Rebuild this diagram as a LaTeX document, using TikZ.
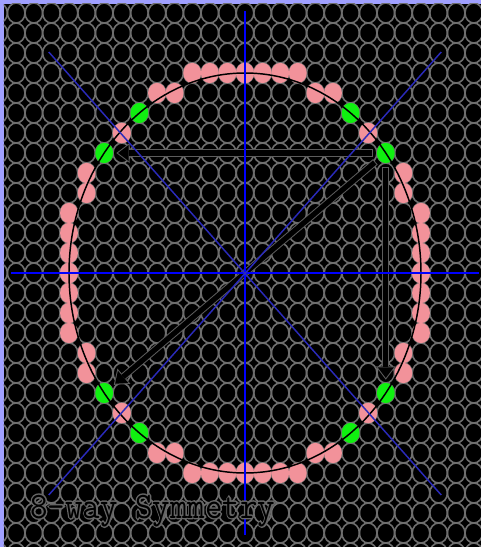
\documentclass[tikz,border=0pt]{standalone}
\usepackage{fontspec}
\usepackage{tikz}
\usetikzlibrary{arrows.meta, shapes.geometric}
\definecolor{frame}{HTML}{A0A0FF}
\definecolor{gridgray}{HTML}{6E6E6E}
\definecolor{pixpink}{HTML}{F2929A}
\definecolor{pixgreen}{HTML}{10F010}
\definecolor{axisblue}{HTML}{0000FF}
\definecolor{diagblue}{HTML}{2A2ABA}
\definecolor{rimgray}{HTML}{5C5C5C}
% outlined text: grey stroke under a black fill
\newcommand{\outlined}[1]{%
  \rlap{\special{pdf:literal direct 1 Tr 0.4 G 2.2 w}#1\special{pdf:literal direct 0 Tr}}#1}

\begin{document}
\begin{tikzpicture}[x=13.2pt, y=15pt,
  pixel/.style={ellipse, minimum width=13.4pt, minimum height=15.2pt, inner sep=0pt},
  pinkdot/.style={pixel, fill=pixpink},
  greendot/.style={pixel, fill=pixgreen},
  arrowrim/.style={draw=rimgray, line width=5.4pt, shorten <=3pt, shorten >=2.2pt,
    -{Triangle[length=10pt, width=15pt, line width=0pt]}},
  arrowcore/.style={draw=black, line width=3.9pt, shorten <=3.75pt, shorten >=3.5pt,
    -{Triangle[length=7.9pt, width=12pt, line width=0pt]}},
  titletext/.style={font=\fontsize{28pt}{28pt}\selectfont\ttfamily,
    anchor=base west, inner sep=0pt, xscale=0.91}]
  \useasboundingbox (-13.9205,-13.7) rectangle (13.4091,13.65);

  % Frame and background
  \fill[frame] (-13.9205,-13.7) rectangle (13.4091,13.65);
  \fill[black] (-13.72,-13.7) rectangle (13.4091,13.475);

  % Pixel grid
  \begin{scope}
    \clip (-13.72,-13.7) rectangle (13.4091,13.475);
    \foreach \i in {-14,...,14}
      \foreach \j in {-14,...,14}
        \draw[gridgray, line width=1.2pt] (\i,\j) ellipse [x radius=6.6pt, y radius=7.5pt];
  \end{scope}

  % Pixels of the circle (one octant, mirrored)
  \foreach \a/\b [count=\k] in {0/10,1/10,2/10,3/10,4/9,5/9,7/7}
    \foreach \sx/\sy [count=\m] in {1/1,-1/1,1/-1,-1/-1} {
      \node[pinkdot] (p\k-\m-a) at ({\sx*\a},{\sy*\b}) {};
      \node[pinkdot] (p\k-\m-b) at ({\sx*\b},{\sy*\a}) {};
    }

  % Symmetric points
  \node[greendot] (gA) at (8,6) {};
  \node[greendot] (gB) at (-8,6) {};
  \node[greendot] (gC) at (8,-6) {};
  \node[greendot] (gD) at (-8,-6) {};
  \node[greendot] (gE) at (6,8) {};
  \node[greendot] (gF) at (-6,8) {};
  \node[greendot] (gG) at (6,-8) {};
  \node[greendot] (gH) at (-6,-8) {};

  % Exact circle
  \draw[black, line width=1.1pt] (0,0) ellipse [x radius=132pt, y radius=150pt];

  % Reflections
  \foreach \t in {gB,gC,gD} {
    \draw[arrowrim] (gA) -- (\t);
    \draw[arrowcore] (gA) -- (\t);
  }

  % Axes and diagonals
  \draw[axisblue, line width=1.5pt] (-13.3,0) -- (13.3,0);
  \draw[axisblue, line width=1.5pt] (0,-13.1) -- (0,13.1);
  \draw[diagblue, line width=1.1pt] (-11.15,11.05) -- (11.15,-11.1);
  \draw[diagblue, line width=1.1pt] (-11.15,-11.1) -- (11.15,11.05);

  % Caption
  \node[titletext, text=black] (title) at (-12.22,-12.25) {\outlined{8-way Symmetry}};
\end{tikzpicture}
\end{document}
